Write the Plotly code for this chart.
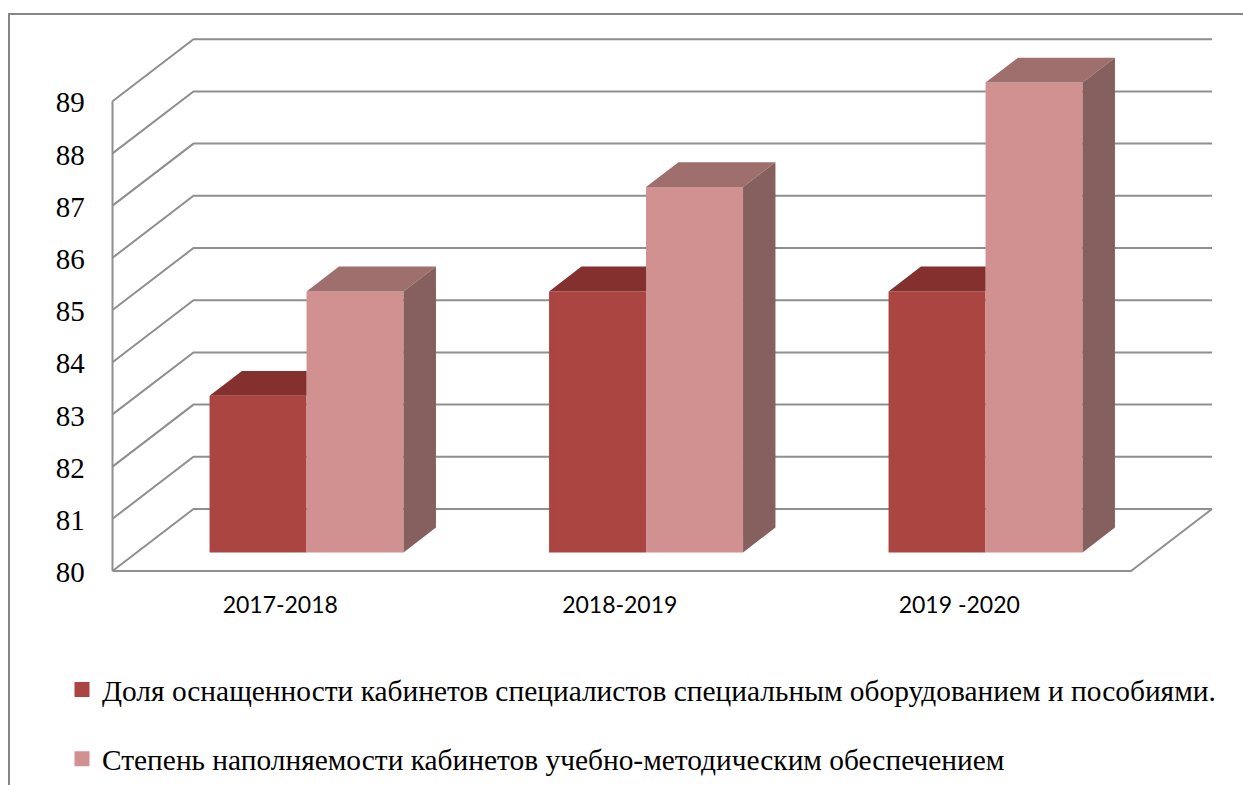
import plotly.graph_objects as go

categories = ["2017-2018", "2018-2019", "2019 -2020"]
series_names = [
    "Доля оснащенности кабинетов специалистов специальным оборудованием и пособиями.",
    "Степень наполняемости кабинетов учебно-методическим обеспечением",
]
equip_values = [83, 85, 85]
fill_values = [85, 87, 89]
value_ticks = [80, 81, 82, 83, 84, 85, 86, 87, 88, 89]

W, H = 1243, 785
PX_CAT, PX_VAL = 339.5, 52.2          # pixels per category / per value unit
X0_PX, Y0_PX = 112.5, 571             # pixel of the front-left floor corner
DEPTH_X, DEPTH_Y = 81 / PX_CAT, 62 / PX_VAL   # oblique offset of the back wall
BAR_W = 97 / PX_CAT
BAR_D0, BAR_D1 = 0.30, 0.70
EDGE = 3
FLOOR = value_ticks[0]

GRID = "#8f8f8f"
C_DARK, C_DARK_TOP = "#ab4542", "#83302e"
C_PINK, C_PINK_TOP, C_PINK_SIDE = "#d09190", "#9f6f6e", "#85605e"
SERIF = "Liberation Serif, Times New Roman, serif"


def proj(c, v, d):
    return c + d * DEPTH_X, v + d * DEPTH_Y


def poly(pts, color):
    return go.Scatter(
        x=[p[0] for p in pts] + [pts[0][0]],
        y=[p[1] for p in pts] + [pts[0][1]],
        mode="lines", line=dict(width=0), fill="toself", fillcolor=color,
        showlegend=False, hoverinfo="skip",
    )


def path(points):
    s = "M" + " L".join(f"{x},{y}" for x, y in points)
    return dict(type="path", path=s, xref="x", yref="y", layer="below",
                line=dict(color=GRID, width=2))


idx = list(range(len(categories)))
fig = go.Figure()

# front faces (real bars)
dx_f = BAR_D0 * DEPTH_X
dy_f = BAR_D0 * DEPTH_Y
inset_x, inset_y = EDGE / PX_CAT, EDGE / PX_VAL
for name, vals, col, sign in [(series_names[0], equip_values, C_DARK, -1),
                              (series_names[1], fill_values, C_PINK, 0)]:
    fig.add_trace(go.Bar(
        name=name, legendgroup=name,
        x=[c + dx_f + sign * BAR_W for c in idx],
        y=[v - FLOOR - inset_y for v in vals],
        base=[FLOOR + dy_f + inset_y / 2] * len(vals),
        width=BAR_W - inset_x,
        offset=inset_x / 2,
        marker=dict(color=col, line=dict(color=col, width=EDGE)),
    ))

# top and side faces
for c, a, b in zip(idx, equip_values, fill_values):
    left, mid, right = c - BAR_W, c, c + BAR_W
    fig.add_trace(poly([proj(left, a, BAR_D0), proj(left, a, BAR_D1),
                        (mid + dx_f, a + BAR_D1 * DEPTH_Y), proj(mid, a, BAR_D0)], C_DARK_TOP))
    fig.add_trace(poly([proj(mid, b, BAR_D0), proj(mid, b, BAR_D1),
                        proj(right, b, BAR_D1), proj(right, b, BAR_D0)], C_PINK_TOP))
    fig.add_trace(poly([proj(right, FLOOR, BAR_D0), proj(right, FLOOR, BAR_D1),
                        proj(right, b, BAR_D1), proj(right, b, BAR_D0)], C_PINK_SIDE))

# walls and floor
shapes = []
xl, xr = -0.5, len(categories) - 0.5
for v in value_ticks:
    shapes.append(path([proj(xl, v, 0), proj(xl, v, 1), proj(xr, v, 1)]))
shapes.append(path([proj(xl, value_ticks[0], 0), proj(xl, value_ticks[-1], 0)]))
shapes.append(path([proj(xl, FLOOR, 0), proj(xr, FLOOR, 0), proj(xr, FLOOR, 1)]))
# outer frame of the picture (open at right and bottom)
shapes.append(dict(type="path", xref="paper", yref="paper", layer="below",
                   path=f"M{9/W},0 L{9/W},{1-14/H} L1,{1-14/H}",
                   line=dict(color="#868686", width=2)))

fig.update_layout(
    width=W, height=H, margin=dict(l=0, r=0, t=0, b=0, autoexpand=False),
    paper_bgcolor="white", plot_bgcolor="white",
    barmode="overlay", shapes=shapes,
    showlegend=True,
    legend=dict(x=62 / W, y=1 - 664 / H, xanchor="left", yanchor="top",
                font=dict(family=SERIF, size=29.4, color="black"),
                tracegroupgap=28, traceorder="grouped", borderwidth=0,
                bgcolor="rgba(0,0,0,0)", itemclick=False, itemdoubleclick=False),
    xaxis=dict(range=[-0.5 - X0_PX / PX_CAT, -0.5 + (W - X0_PX) / PX_CAT],
               anchor="free", position=1 - Y0_PX / H,
               tickmode="array", tickvals=idx, ticktext=categories,
               ticks="outside", ticklen=13, tickcolor="rgba(0,0,0,0)",
               ticklabelshift=-2,
               showgrid=False, zeroline=False, showline=False,
               tickfont=dict(family="Lato", size=23, color="black")),
    yaxis=dict(range=[80 - (H - Y0_PX) / PX_VAL, 80 + Y0_PX / PX_VAL],
               anchor="free", position=X0_PX / W,
               tickmode="array", tickvals=value_ticks,
               ticks="outside", ticklen=22, tickcolor="rgba(0,0,0,0)",
               ticklabelshift=1,
               showgrid=False, zeroline=False, showline=False,
               tickfont=dict(family=SERIF, size=29, color="black")),
)

fig.write_html("out.html", config=dict(displayModeBar=False),
               post_script="document.body.style.margin='0';")
